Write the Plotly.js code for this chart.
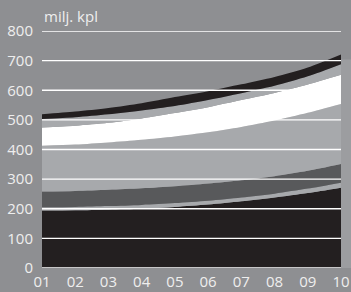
<!DOCTYPE html>
<html><head><meta charset="utf-8">
<script src="https://cdn.plot.ly/plotly-3.0.1.min.js"></script>
<style>html,body{margin:0;padding:0;background:#8e8f92;}</style>
</head><body><div id="chart" style="width:351px;height:292px;"></div>
<script>
const years = [1,2,3,4,5,6,7,8,9,10];
const yearLabels = ['01','02','03','04','05','06','07','08','09','10'];
// stacked series values (bottom to top), milj. kpl
const seriesBlackLow  = [194,195,197,200,206,214,225,238,253,271];
const seriesLightThin = [11,11,12,13,13,13,13,13,15,17];
const seriesDark      = [53,54,55,56,57,58,58,59,60,63];
const seriesLightBig  = [155,157,160,164,168,173,180,188,196,203];
const seriesWhite     = [61,63,66,72,79,85,91,93,95,98];
const seriesLightTop  = [29,29,29,27,24,24,23,24,28,36];
const seriesBlackTop  = [16,19,21,24,30,30,30,30,30,33];
const yTicks = [0,100,200,300,400,500,600,700,800];

const series = [
  [seriesBlackLow,'#231f20'],
  [seriesLightThin,'#a7a9ac'],
  [seriesDark,'#58595b'],
  [seriesLightBig,'#a7a9ac'],
  [seriesWhite,'#ffffff'],
  [seriesLightTop,'#a7a9ac'],
  [seriesBlackTop,'#231f20']
];
const traces = series.map(([vals,col]) => ({
  x: years, y: vals, type:'scatter', mode:'lines', stackgroup:'s',
  line:{width:0, shape:'spline', smoothing:0.8, color:col}, fillcolor:col,
  hoverinfo:'skip'
}));

const shapes = yTicks.map(v => ({
  type:'line', xref:'paper', yref:'y', x0:0, x1:1, y0:v, y1:v,
  line:{color:'#ffffff', width:1.3}, layer:'above'
}));
shapes.push({type:'rect', xref:'paper', yref:'paper', x0:1, x1:1.04, y0:0, y1:0.88,
  fillcolor:'#9c9da0', line:{width:0}, layer:'below'});

const layout = {
  width:351, height:292,
  margin:{l:42, r:10, t:31, b:24},
  paper_bgcolor:'#8e8f92', plot_bgcolor:'#8e8f92',
  showlegend:false,
  font:{family:'Open Sans, sans-serif', color:'#eeeeee', size:15},
  xaxis:{range:[1,10], tickvals:years, ticktext:yearLabels, showgrid:false, zeroline:false,
         showline:false, ticks:'', ticklabelstandoff:3, ticklabeloverflow:'allow', fixedrange:true},
  yaxis:{range:[0,800], tickvals:yTicks, showgrid:false, zeroline:false, showline:false,
         ticks:'', ticklabelstandoff:8, fixedrange:true},
  shapes: shapes,
  annotations:[{text:'milj. kpl', xref:'paper', yref:'paper', x:0, y:1, xanchor:'left', yanchor:'bottom',
    showarrow:false, yshift:3, font:{size:15, color:'#eeeeee'}}]
};
Plotly.newPlot('chart', traces, layout, {staticPlot:true, displayModeBar:false});
</script></body></html>
